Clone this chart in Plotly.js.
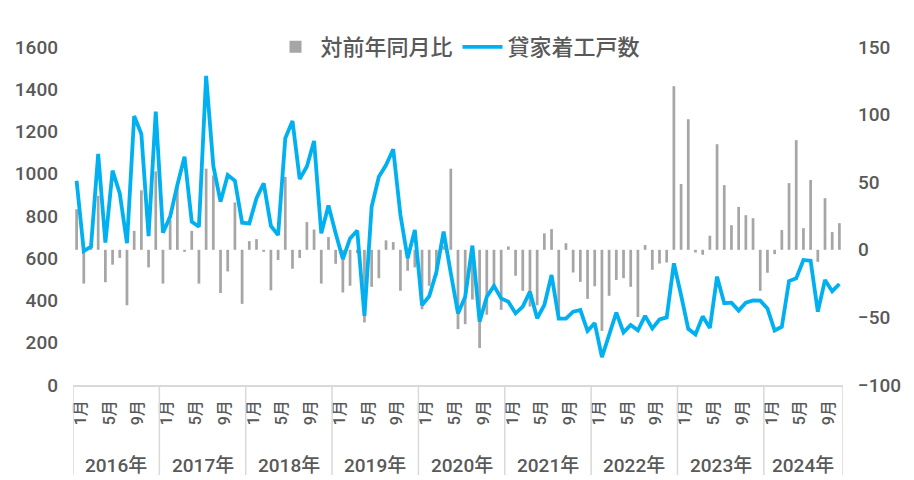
<!DOCTYPE html>
<html>
<head>
<meta charset="utf-8">
<script src="https://cdn.plot.ly/plotly-3.0.1.min.js"></script>
<style>
  html, body { margin: 0; padding: 0; background: #fff; }
  #chart { width: 914px; height: 480px; }
</style>
</head>
<body>
<div id="chart"></div>
<script>
//---------------------------------------------------------------------------------------------------------------------
// 貸家着工戸数 (left axis) and 対前年同月比 (right axis), 2016年1月 - 2024年11月
//---------------------------------------------------------------------------------------------------------------------
var years = ['2016年', '2017年', '2018年', '2019年', '2020年', '2021年', '2022年', '2023年', '2024年'];
var monthsInYear = [12, 12, 12, 12, 12, 12, 12, 12, 11];
var monthNames = ['1月', '2月', '3月', '4月', '5月', '6月', '7月', '8月', '9月', '10月', '11月', '12月'];
var labelledMonths = ['1月', '5月', '9月'];

// 貸家着工戸数
var units2016 = [967, 634, 655, 1094, 674, 1015, 907, 671, 1273, 1188, 705, 1294];
var units2017 = [721, 797, 947, 1081, 773, 750, 1463, 1037, 868, 994, 967, 768];
var units2018 = [765, 884, 955, 753, 710, 1168, 1250, 975, 1034, 1155, 718, 850];
var units2019 = [718, 596, 694, 731, 327, 844, 986, 1041, 1116, 805, 600, 734];
var units2020 = [378, 420, 535, 726, 529, 339, 418, 660, 300, 418, 469, 410];
var units2021 = [394, 339, 371, 442, 316, 379, 521, 314, 314, 347, 355, 256];
var units2022 = [293, 132, 237, 343, 249, 284, 259, 327, 268, 310, 320, 576];
var units2023 = [425, 266, 239, 325, 270, 513, 387, 390, 352, 390, 400, 399];
var units2024 = [362, 258, 276, 492, 505, 592, 588, 347, 497, 444, 478];

// 対前年同月比 (%)
var yoy2016 = [30, -25, 2, 40, -24, -11, -6, -41, 14, 44, -13, 58];
var yoy2017 = [-25, 22, 47, -1.5, 14, -25, 60, 55, -32, -16, 35, -40];
var yoy2018 = [6.4, 7.9, -1.5, -30, -7.6, 54, -14, -6, 20.5, 15, -25, 9.4];
var yoy2019 = [-10.4, -31.6, -26.6, -2.5, -53.7, -27.4, -21, 7, 5.7, -30.3, -15.5, -13];
var yoy2020 = [-44, -26.6, -19, 3, 60, -58.7, -55, -36.8, -72.7, -48, -28, -44.4];
var yoy2021 = [2.5, -19.2, -30.3, -42, -41, 12.2, 15.3, -51.3, 4.9, -16.8, -23.7, -36.3];
var yoy2022 = [-27, -60, -34, -22.3, -21, -27.4, -49.7, 3.5, -14.8, -10.2, -9.4, 121];
var yoy2023 = [48.7, 96.6, -2, -3.7, 10.4, 78.1, 47.8, 18.2, 31.7, 25.6, 23.4, -30.3];
var yoy2024 = [-17, -3.2, 14.6, 49.3, 81.1, 16, 51.6, -8.9, 38.2, 13.1, 19.7];

var textColor = '#595959';
var fontFamily = "Roboto, 'Noto Sans CJK JP', sans-serif";

function buildChart(divId) {
    var units = [].concat(units2016, units2017, units2018, units2019, units2020,
                          units2021, units2022, units2023, units2024);
    var yoy = [].concat(yoy2016, yoy2017, yoy2018, yoy2019, yoy2020,
                        yoy2021, yoy2022, yoy2023, yoy2024);

    // category list, month tick labels, year group labels and separators
    var cats = [], tickVals = [], tickText = [], shapes = [], annotations = [];
    var start = 0;
    for (var y = 0; y < years.length; y++) {
        for (var m = 0; m < monthsInYear[y]; m++) {
            var cat = years[y] + monthNames[m];
            cats.push(cat);
            if (labelledMonths.indexOf(monthNames[m]) >= 0) {
                tickVals.push(cat);
                tickText.push(monthNames[m]);
            }
        }
        shapes.push(separator(start - 0.5));
        annotations.push({x: start + (monthsInYear[y] - 1) / 2, xref: 'x', y: -0.237, yref: 'paper',
            text: years[y], showarrow: false, yanchor: 'middle',
            font: {family: fontFamily, size: 19, weight: 500, color: textColor}});
        start += monthsInYear[y];
    }
    shapes.push(separator(start - 0.5));

    var trace1 = {x: cats, y: yoy, type: 'bar', name: '対前年同月比', yaxis: 'y',
                  width: 0.38, marker: {color: '#a6a6a6'}};
    var trace2 = {x: cats, y: units, type: 'scatter', mode: 'lines', name: '貸家着工戸数', yaxis: 'y2',
                  line: {color: '#00b0f0', width: 3.8}};

    var layout = {
        width: 914, height: 480,
        margin: {l: 73, r: 71, t: 47, b: 95, pad: 0},
        paper_bgcolor: '#fff', plot_bgcolor: '#fff',
        font: {family: fontFamily, color: textColor, weight: 500},
        showlegend: true,
        legend: {orientation: 'h', x: 0.5, xanchor: 'center', y: 1.0, yanchor: 'middle',
                 font: {size: 22, weight: 500, color: textColor}, itemwidth: 40},
        xaxis: {type: 'category', range: [-0.5, cats.length - 0.5], tickmode: 'array',
                tickvals: tickVals, ticktext: tickText, tickangle: -90, ticks: '',
                ticklabelstandoff: 7, ticklabelshift: 4,
                showline: true, linecolor: '#d9d9d9', linewidth: 1.5, showgrid: false,
                tickfont: {size: 16, weight: 500, color: textColor}},
        yaxis: {side: 'right', range: [-100, 150], dtick: 50, showgrid: false, zeroline: false,
                ticks: '', ticklabelstandoff: 14, tickfont: {size: 19, weight: 500, color: textColor}},
        yaxis2: {overlaying: 'y', side: 'left', range: [0, 1600], dtick: 200, showgrid: false,
                 zeroline: false, ticks: '', ticklabelstandoff: 14,
                 tickfont: {size: 19, weight: 500, color: textColor}},
        shapes: shapes,
        annotations: annotations
    };
    Plotly.newPlot(divId, [trace1, trace2], layout, {displayModeBar: false, responsive: false});
}

function separator(xPos) {
    return {type: 'line', xref: 'x', yref: 'paper', x0: xPos, x1: xPos, y0: 0, y1: -0.266,
            line: {color: '#d9d9d9', width: 1.5}};
}

buildChart('chart');
</script>
</body>
</html>
